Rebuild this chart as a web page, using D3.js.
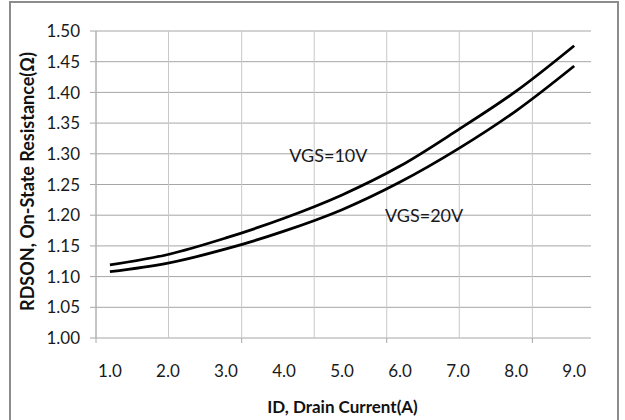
<!DOCTYPE html>
<html lang="en">
<head>
<meta charset="UTF-8">
<title>RDSON vs ID</title>
<script src="https://cdn.jsdelivr.net/npm/d3@7/dist/d3.min.js"></script>
<style>
    body { margin: 0; background: white; }
    svg { display: block; font-family: 'Lato', sans-serif; }
    .grid-h line { stroke: #a6a6a6; stroke-width: 1px; }
    .grid-v line { stroke: #c8c8c8; stroke-width: 1px; }
    .tick-label { font-size: 17px; fill: #1a1a1a; }
    .axis-title { font-size: 17px; font-weight: bold; fill: #111; }
    .note { font-size: 18px; fill: #1a1a1a; }
</style>
</head>
<body>
<div id="chart"></div>
<script>
    // ---- data ----
    const currents = [1.0, 2.0, 3.0, 4.0, 5.0, 6.0, 7.0, 8.0, 9.0];
    const rdsonVgs10 = [1.119, 1.136, 1.163, 1.195, 1.233, 1.280, 1.339, 1.402, 1.476];
    const rdsonVgs20 = [1.108, 1.122, 1.145, 1.174, 1.209, 1.254, 1.308, 1.370, 1.443];

    const xTickLabels = [1.0, 2.0, 3.0, 4.0, 5.0, 6.0, 7.0, 8.0, 9.0];
    // vertical gridlines do not line up with the labels in the original
    const xGridValues = [0.76, 2.01, 3.27, 4.52, 5.77, 7.02, 8.28];
    const xMarkValues = [0.76, 3.27, 5.77, 8.28];
    const yTicks = [1.00, 1.05, 1.10, 1.15, 1.20, 1.25, 1.30, 1.35, 1.40, 1.45, 1.50];

    const labels = [
        { text: "VGS=10V", x: 4.09, y: 1.287 },
        { text: "VGS=20V", x: 5.74, y: 1.189 }
    ];

    // ---- layout ----
    const width = 625, height = 420;
    const margin = { top: 31, right: 34, bottom: 82, left: 96 };
    const plotW = width - margin.left - margin.right;
    const plotH = height - margin.top - margin.bottom;

    const svg = d3.select("#chart").append("svg")
        .attr("width", width)
        .attr("height", height);

    // outer chart border
    svg.append("rect")
        .attr("x", 10).attr("y", 2)
        .attr("width", 608).attr("height", 420)
        .attr("fill", "white")
        .attr("stroke", "#8c8c8c")
        .attr("stroke-width", 2);

    const g = svg.append("g")
        .attr("transform", `translate(${margin.left},${margin.top})`);

    const x = d3.scaleLinear().domain([0.76, 9.29]).range([0, plotW]);
    const y = d3.scaleLinear().domain([1.00, 1.50]).range([plotH, 0]);

    // horizontal gridlines (extend left as tick marks)
    g.append("g").attr("class", "grid-h")
        .selectAll("line")
        .data(yTicks)
        .join("line")
        .attr("x1", -6).attr("x2", plotW)
        .attr("y1", d => y(d)).attr("y2", d => y(d));

    // vertical gridlines
    g.append("g").attr("class", "grid-v")
        .selectAll("line")
        .data(xGridValues)
        .join("line")
        .attr("x1", d => x(d)).attr("x2", d => x(d))
        .attr("y1", 0).attr("y2", plotH);

    // small tick marks under the x axis
    g.append("g").attr("class", "grid-h")
        .selectAll("line")
        .data(xMarkValues)
        .join("line")
        .attr("x1", d => x(d)).attr("x2", d => x(d))
        .attr("y1", plotH).attr("y2", plotH + 5);

    // y axis line
    g.append("line")
        .attr("x1", 0).attr("x2", 0)
        .attr("y1", 0).attr("y2", plotH)
        .attr("stroke", "#a6a6a6");

    // tick labels
    g.append("g").selectAll("text")
        .data(yTicks)
        .join("text")
        .attr("class", "tick-label")
        .attr("x", -16)
        .attr("y", d => y(d))
        .attr("dy", "0.36em")
        .attr("text-anchor", "end")
        .text(d3.format(".2f"));

    g.append("g").selectAll("text")
        .data(xTickLabels)
        .join("text")
        .attr("class", "tick-label")
        .attr("x", d => x(d))
        .attr("y", plotH + 39)
        .attr("text-anchor", "middle")
        .text(d3.format(".1f"));

    // curves
    const line = d3.line()
        .x(d => x(d[0]))
        .y(d => y(d[1]))
        .curve(d3.curveCatmullRom);

    [rdsonVgs10, rdsonVgs20].forEach(series => {
        g.append("path")
            .datum(currents.map((c, i) => [c, series[i]]))
            .attr("fill", "none")
            .attr("stroke", "#000")
            .attr("stroke-width", 2.8)
            .attr("d", line);
    });

    // curve labels
    g.append("g").selectAll("text")
        .data(labels)
        .join("text")
        .attr("class", "note")
        .attr("x", d => x(d.x))
        .attr("y", d => y(d.y))
        .text(d => d.text);

    // axis titles
    svg.append("text")
        .attr("class", "axis-title")
        .attr("x", margin.left + plotW / 2 - 1)
        .attr("y", 413)
        .attr("text-anchor", "middle")
        .text("ID, Drain Current(A)");

    svg.append("text")
        .attr("class", "axis-title")
        .attr("transform", `translate(34,${margin.top + plotH / 2 - 3}) rotate(-90)`)
        .attr("text-anchor", "middle")
        .style("font-size", "18px")
        .text("RDSON, On-State Resistance(Ω)");
</script>
</body>
</html>
